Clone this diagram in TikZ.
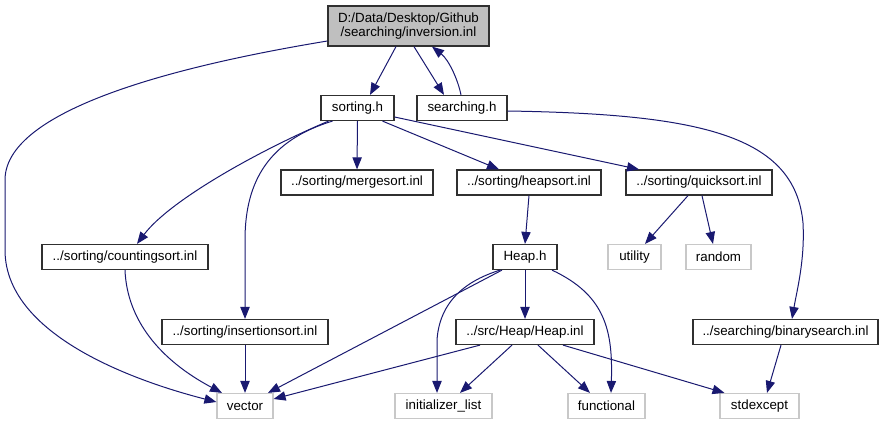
\documentclass[tikz,border=0pt]{standalone}
\usepackage{fontspec}
\setmainfont{Liberation Sans}
\usetikzlibrary{arrows.meta,positioning,calc}
\definecolor{edgeblue}{HTML}{191970}
\definecolor{rootgray}{HTML}{BFBFBF}
\definecolor{sysgray}{HTML}{C8C8C8}
\definecolor{framedark}{HTML}{303030}
\tikzset{
  filenode/.style={draw=framedark,fill=white,line width=0.9pt,inner sep=0pt,minimum height=18.75pt,align=center,font=\fontsize{10}{11}\selectfont},
  rootnode/.style={filenode,fill=rootgray,minimum height=30pt},
  sysnode/.style={filenode,draw=sysgray},
  wd/.style={minimum width=#1*0.75pt},
  dep/.style={-{Triangle[length=9pt,width=7pt]},line width=0.75pt,edgeblue}
}
\begin{document}
\begin{tikzpicture}[x=0.75pt,y=-0.75pt]
  \useasboundingbox (0,0) rectangle (883,425);

  % Top: the file and the two headers it pulls in
  \node[rootnode,wd=161] (inv) at (408.5,26) {D:/Data/Desktop/Github\\/searching/inversion.inl};
  \node[filenode,wd=73] (sorth) at (357.5,108) {sorting.h};
  \node[filenode,wd=90] (searh) at (462,108) {searching.h};

  % Sorting sources
  \node[filenode,wd=152] (merge) at (357,182.5) {../sorting/mergesort.inl};
  \node[filenode,wd=144] (heaps) at (529,182.5) {../sorting/heapsort.inl};
  \node[filenode,wd=146] (quick) at (699,182.5) {../sorting/quicksort.inl};
  \node[filenode,wd=166] (count) at (125,257) {../sorting/countingsort.inl};
  \node[filenode,wd=64] (heaph) at (525,257) {Heap.h};
  \node[sysnode,wd=53] (util) at (634.5,257) {utility};
  \node[sysnode,wd=65] (rand) at (718.5,257) {random};
  \node[filenode,wd=166] (insert) at (245,332) {../sorting/insertionsort.inl};
  \node[filenode,wd=138] (heapinl) at (525,332) {../src/Heap/Heap.inl};
  \node[filenode,wd=185] (binary) at (785.5,332) {../searching/binarysearch.inl};

  % Standard headers
  \node[sysnode,wd=56] (vector) at (245,406) {vector};
  \node[sysnode,wd=97] (initl) at (443.5,406) {initializer\_list};
  \node[sysnode,wd=77] (func) at (606.5,406) {functional};
  \node[sysnode,wd=79] (stdex) at (759.5,406) {stdexcept};

  \draw[dep] ($(inv.south)+(-12.5,0)$) -- ($(sorth.north)+(12.5,0)$);
  \draw[dep] ($(inv.south)+(5.5,0)$) -- ($(searh.north)+(-18,0)$);
  \draw[dep] ($(searh.north)+(-1,0)$) .. controls (458,80) and (449,60) .. ($(inv.south)+(23.5,0)$);
  \draw[dep] ($(inv.west)+(0,15)$) .. controls (200,62) and (5,105) .. (5,180) -- (5,250)
    .. controls (5,340) and (150,385) .. ($(vector.west)+(0,-4)$);

  % sorting.h includes
  \draw[dep] (sorth.south) -- (merge.north);
  \draw[dep] ($(sorth.south)+(25,0)$) -- ($(heaps.north)+(-30,0)$);
  \draw[dep] ($(sorth.east)+(0,9)$) -- ($(quick.north)+(-60,0)$);
  \draw[dep] ($(sorth.south)+(-29,0)$) .. controls (260,150) and (170,200) .. ($(count.north)+(12,0)$);
  \draw[dep] ($(sorth.south)+(-25,0)$) .. controls (270,140) and (245,180) .. (245,240) -- (insert.north);
  \draw[dep] ($(searh.east)+(0,3)$) .. controls (700,114) and (795,135) .. (803,223)
    .. controls (805,260) and (797,290) .. ($(binary.north)+(6.5,0)$);

  \draw[dep] (heaps.south) -- (heaph.north);
  \draw[dep] ($(quick.south)+(-11,0)$) -- ($(util.north)+(10.5,0)$);
  \draw[dep] ($(quick.south)+(3,0)$) -- ($(rand.north)+(-5.5,0)$);
  \draw[dep] (count.south) .. controls (127,320) and (160,360) .. ($(vector.north)+(-23,0)$);
  \draw[dep] (insert.south) -- (vector.north);

  % Heap.h and Heap.inl
  \draw[dep] ($(heaph.south)+(-23,0)$) -- ($(vector.north)+(23,0)$);
  \draw[dep] ($(heaph.south)+(-25,0)$) .. controls (475,278) and (440,295) .. (437,340) -- ($(initl.north)+(-6.5,0)$);
  \draw[dep] (heaph.south) -- (heapinl.north);
  \draw[dep] ($(heaph.south)+(27,0)$) .. controls (605,295) and (613,330) .. ($(func.north)+(4.5,0)$);
  \draw[dep] ($(heapinl.south)+(-45,0)$) -- ($(vector.east)+(0,-7)$);
  \draw[dep] ($(heapinl.south)+(-13,0)$) -- ($(initl.north)+(16.5,0)$);
  \draw[dep] ($(heapinl.south)+(13,0)$) -- ($(func.north)+(-16.5,0)$);
  \draw[dep] ($(heapinl.south)+(38,0)$) -- ($(stdex.north)+(-35,0)$);
  \draw[dep] ($(binary.south)+(-4.5,0)$) -- ($(stdex.north)+(7.5,0)$);
\end{tikzpicture}
\end{document}
